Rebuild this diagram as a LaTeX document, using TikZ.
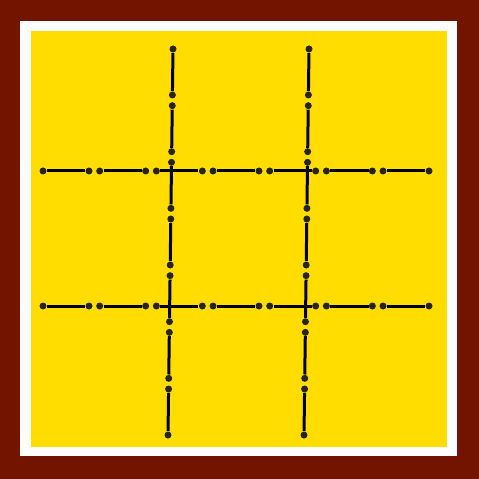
\documentclass[tikz,border=0pt]{standalone}
\usepackage{xcolor}
\usepackage{tikz}
\definecolor{framered}{RGB}{115,20,0}
\definecolor{boardyellow}{RGB}{255,221,0}
\definecolor{tipgray}{RGB}{40,36,20}
\tikzset{
  stickend/.style={circle, fill=tipgray, inner sep=0pt, minimum size=0.14cm},
  stick/.style={black, line width=0.06cm}
}

\begin{document}
\begin{tikzpicture}[x=0.02cm, y=-0.02cm]
% frame and board
\fill[framered] (0,0) rectangle (479,479);
\fill[white] (20,21) rectangle (457,456);
\fill[boardyellow] (31,31) rectangle (447,447);
% horizontal rows of matches
\foreach \row/\yy in {1/171, 2/306} {
  \foreach \i in {0,...,6} {
    \pgfmathsetmacro{\xs}{43+56.67*\i}
    \node[stickend] (row\row-\i-l) at (\xs,\yy) {};
    \node[stickend] (row\row-\i-r) at (\xs+46,\yy) {};
    \draw[stick] (row\row-\i-l) -- (row\row-\i-r);
  }
}
% vertical columns of matches, leaning slightly left
\foreach \col/\xt in {1/173, 2/309} {
  \foreach \i in {0,...,6} {
    \pgfmathsetmacro{\ys}{49+56.67*\i}
    \pgfmathsetmacro{\ye}{\ys+46}
    \pgfmathsetmacro{\xa}{\xt-(\ys-49)*5/386}
    \pgfmathsetmacro{\xb}{\xt-(\ye-49)*5/386}
    \node[stickend] (col\col-\i-t) at (\xa,\ys) {};
    \node[stickend] (col\col-\i-b) at (\xb,\ye) {};
    \draw[stick] (col\col-\i-t) -- (col\col-\i-b);
  }
}
\end{tikzpicture}
\end{document}
